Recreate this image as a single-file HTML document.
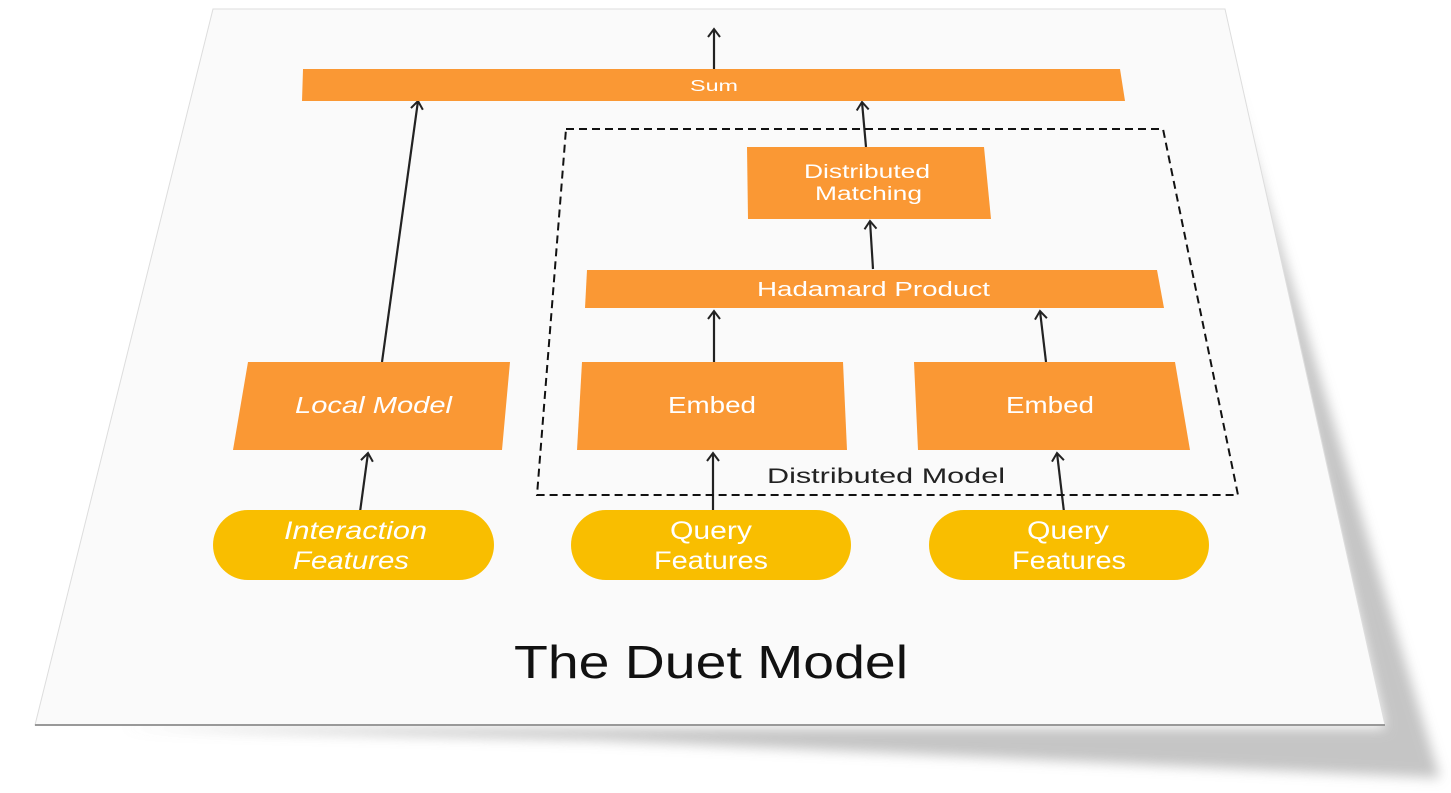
<!DOCTYPE html>
<html><head><meta charset="utf-8"><style>
html,body{margin:0;padding:0;background:#fff;width:1451px;height:793px;overflow:hidden}
text{font-family:"Liberation Sans",sans-serif}
</style></head><body>
<svg width="1451" height="793" viewBox="0 0 1451 793" xmlns="http://www.w3.org/2000/svg">
<defs>
<filter id="bl" x="-10%" y="-10%" width="120%" height="120%"><feGaussianBlur stdDeviation="6"/></filter>
<marker id="ah" markerWidth="14" markerHeight="14" refX="11" refY="7" orient="auto" markerUnits="userSpaceOnUse">
<path d="M3,1 L11,7 L3,13" fill="none" stroke="#222" stroke-width="2"/></marker>
</defs>
<polygon points="1225,60 1440,778 600,740 120,728 1385,728" fill="#bbb" filter="url(#bl)" opacity="0.85"/>
<polygon points="213,9 1225,9 1385,725 35,725" fill="#fafafa" stroke="#ddd" stroke-width="1"/>
<line x1="35" y1="725" x2="1385" y2="725" stroke="#999" stroke-width="2"/>
<g stroke="#222" stroke-width="2.2" fill="none">
<line x1="714" y1="69" x2="714" y2="29" marker-end="url(#ah)"/>
<line x1="382" y1="362" x2="418" y2="101" marker-end="url(#ah)"/>
<line x1="866" y1="147" x2="862" y2="102" marker-end="url(#ah)"/>
<line x1="873" y1="269" x2="870" y2="221" marker-end="url(#ah)"/>
<line x1="714" y1="362" x2="714" y2="311" marker-end="url(#ah)"/>
<line x1="1046" y1="362" x2="1040" y2="311" marker-end="url(#ah)"/>
<line x1="713" y1="512" x2="713" y2="453" marker-end="url(#ah)"/>
<line x1="1064" y1="512" x2="1057" y2="453" marker-end="url(#ah)"/>
<line x1="360" y1="512" x2="368" y2="453" marker-end="url(#ah)"/>
</g>
<polygon points="566,129 1163,129 1238,495 537,495" fill="none" stroke="#111" stroke-width="2" stroke-dasharray="8,5"/>
<g fill="#FA9834">
<polygon points="303,69 1120,69 1125,101 302,101"/>
<polygon points="747,147 984,147 991,219 748,219"/>
<polygon points="587,270 1157,270 1164,308 585,308"/>
<polygon points="582,362 843,362 847,450 577,450"/>
<polygon points="914,362 1175,362 1190,450 918,450"/>
<polygon points="248,362 510,362 502,450 233,450"/>
</g>
<g fill="#F9BE00">
<rect x="213" y="510" width="281" height="70" rx="35"/>
<rect x="571" y="510" width="280" height="70" rx="35"/>
<rect x="929" y="510" width="280" height="70" rx="35"/>
</g>
<g fill="#fff">
<text x="690" y="91" font-size="16" textLength="48" lengthAdjust="spacingAndGlyphs">Sum</text>
<text x="804" y="178" font-size="19" textLength="126" lengthAdjust="spacingAndGlyphs">Distributed</text>
<text x="815" y="200" font-size="19" textLength="107" lengthAdjust="spacingAndGlyphs">Matching</text>
<text x="757" y="296" font-size="20" textLength="233" lengthAdjust="spacingAndGlyphs">Hadamard Product</text>
<text x="668" y="413" font-size="23" textLength="88" lengthAdjust="spacingAndGlyphs">Embed</text>
<text x="1006" y="413" font-size="23" textLength="88" lengthAdjust="spacingAndGlyphs">Embed</text>
<text x="295" y="413" font-size="23" font-style="italic" textLength="157" lengthAdjust="spacingAndGlyphs">Local Model</text>
<text x="284" y="539" font-size="25" font-style="italic" textLength="143" lengthAdjust="spacingAndGlyphs">Interaction</text>
<text x="293" y="569" font-size="25" font-style="italic" textLength="116" lengthAdjust="spacingAndGlyphs">Features</text>
<text x="670" y="539" font-size="25" textLength="82" lengthAdjust="spacingAndGlyphs">Query</text>
<text x="654" y="569" font-size="25" textLength="114" lengthAdjust="spacingAndGlyphs">Features</text>
<text x="1027" y="539" font-size="25" textLength="82" lengthAdjust="spacingAndGlyphs">Query</text>
<text x="1012" y="569" font-size="25" textLength="114" lengthAdjust="spacingAndGlyphs">Features</text>
</g>
<text x="767" y="483" font-size="21" fill="#222" textLength="238" lengthAdjust="spacingAndGlyphs">Distributed Model</text>
<text x="514" y="678" font-size="46" fill="#111" textLength="394" lengthAdjust="spacingAndGlyphs">The Duet Model</text>
</svg>
</body></html>
